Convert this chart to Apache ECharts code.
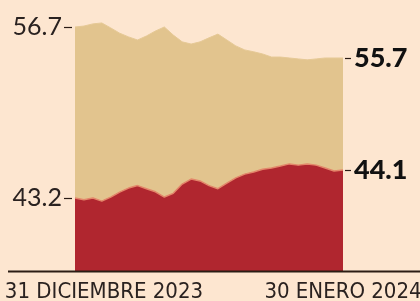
<!DOCTYPE html>
<html>
<head>
<meta charset="utf-8">
<script src="https://cdn.jsdelivr.net/npm/echarts@6/dist/echarts.min.js"></script>
<style>
  html, body { margin: 0; padding: 0; background: #fde6d0; }
  #main { width: 420px; height: 301px; }
</style>
</head>
<body>
<div id="main"></div>
<script>
// fechas: 31 dic 2023 -> 30 ene 2024
var days = ['31 DICIEMBRE 2023']
for (var d = 1; d <= 30; d++) days.push(d + ' ENERO 2024')

// serie roja (abajo) y serie beige (arriba)
var redValues = [43.2, 43.14, 43.2, 43.1, 43.23, 43.39, 43.52, 43.6, 43.5, 43.4,
  43.23, 43.35, 43.65, 43.81, 43.75, 43.6, 43.5, 43.68, 43.85, 43.97,
  44.04, 44.13, 44.17, 44.23, 44.3, 44.26, 44.3, 44.26, 44.17, 44.07, 44.1]
var tanValues = [56.7, 56.73, 56.8, 56.83, 56.67, 56.5, 56.38, 56.28, 56.41, 56.57,
  56.7, 56.44, 56.22, 56.15, 56.22, 56.35, 56.47, 56.28, 56.09, 55.96,
  55.9, 55.83, 55.73, 55.73, 55.7, 55.67, 55.64, 55.67, 55.7, 55.7, 55.7]

var leftTicks = { red: [43.2], tan: [56.7] }
var rightTicks = { red: [44.1], tan: [55.7] }

// rangos de cada eje (misma escala en px por punto)
var redRange = [40.845, 49.264]
var tanRange = [48.829, 57.248]

var myChart = echarts.init(document.getElementById('main'))

function sideAxis(range, ticks, pos, bold) {
  return {
    type: 'value',
    position: pos,
    min: range[0],
    max: range[1],
    offset: pos === 'left' ? 3 : 2,
    axisLine: { show: false },
    splitLine: { show: false },
    axisTick: {
      show: true,
      customValues: ticks,
      length: pos === 'left' ? 8 : 6,
      lineStyle: { color: '#2a1c14', width: 1.2 }
    },
    axisLabel: {
      customValues: ticks,
      margin: pos === 'left' ? 10 : 9,
      color: bold ? '#111' : '#2a2220',
      fontFamily: 'Lato, sans-serif',
      fontSize: bold ? 27 : 25,
      fontWeight: bold ? 900 : 'normal',
      formatter: function (v) { return v.toFixed(1) }
    }
  }
}

var lastIdx = days.length - 1
var dateFont = "'Liberation Sans Narrow', 'DejaVu Sans Condensed', sans-serif"

var option = {
  backgroundColor: '#fde6d0',
  animation: false,
  grid: { left: 75, right: 77, top: 10, bottom: 30, outerBoundsMode: 'none', containLabel: false },
  xAxis: {
    type: 'category',
    data: days,
    boundaryGap: false,
    axisLine: { show: false },
    axisTick: { show: false },
    axisLabel: {
      interval: 0,
      margin: 10,
      color: '#2a2220',
      fontFamily: dateFont,
      fontSize: 22,
      formatter: function (v, i) {
        if (i === 0) return '{a|' + v + '}'
        if (i === lastIdx) return v
        return ''
      },
      rich: {
        a: {
          padding: [0, 0, 0, 58],
          fontFamily: dateFont,
          fontSize: 22,
          color: '#2a2220'
        }
      }
    }
  },
  yAxis: [
    sideAxis(redRange, leftTicks.red, 'left', false),
    sideAxis(tanRange, leftTicks.tan, 'left', false),
    sideAxis(redRange, rightTicks.red, 'right', true),
    sideAxis(tanRange, rightTicks.tan, 'right', true)
  ],
  series: [
    {
      name: 'beige',
      type: 'line',
      yAxisIndex: 1,
      data: tanValues,
      symbol: 'none',
      lineStyle: { width: 1, color: '#e6c996' },
      areaStyle: { color: '#e2c48e', opacity: 1, origin: 'start' },
      z: 2
    },
    {
      name: 'rojo',
      type: 'line',
      yAxisIndex: 0,
      data: redValues,
      symbol: 'none',
      lineStyle: { width: 1.5, color: '#e3866a' },
      areaStyle: { color: '#b0262f', opacity: 1, origin: 'start' },
      z: 3
    }
  ],
  graphic: [
    {
      type: 'line',
      shape: { x1: 8, y1: 271.5, x2: 420, y2: 271.5 },
      style: { stroke: '#2b1d14', lineWidth: 2 },
      z: 10
    }
  ]
}

myChart.setOption(option)
</script>
</body>
</html>
